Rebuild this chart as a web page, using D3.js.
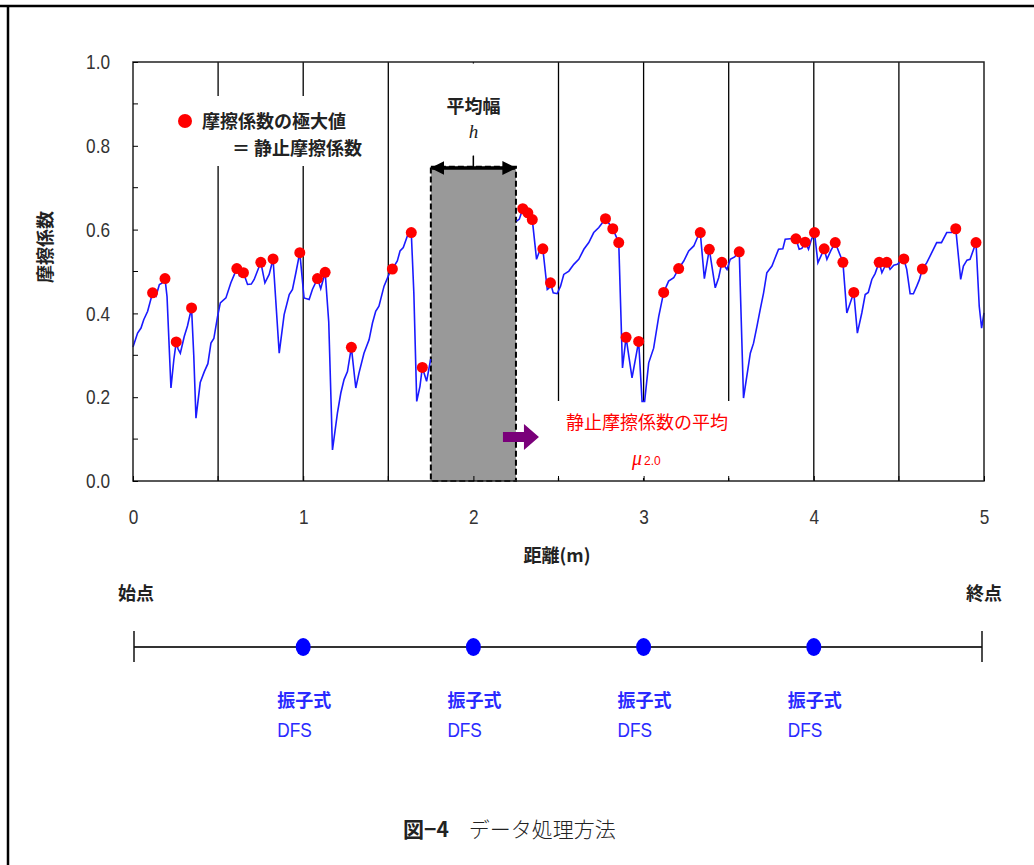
<!DOCTYPE html>
<html>
<head>
<meta charset="utf-8">
<script src="https://cdn.jsdelivr.net/npm/d3@7"></script>
<style>
  body { margin: 0; background: #fff; }
  .num { font-family: "Liberation Sans", Arial, sans-serif; }
  .jp { font-family: "Noto Sans CJK JP", "Noto Sans", sans-serif; }
</style>
</head>
<body>
<div id="chart"></div>
<script>
// friction curve, before the averaging window
var lineX1 = [0, 0.027, 0.047, 0.063, 0.086, 0.115, 0.135, 0.155, 0.17, 0.188, 0.2, 0.223, 0.24, 0.254, 0.265, 0.278, 0.301, 0.32, 0.344, 0.357, 0.37, 0.395, 0.419, 0.44, 0.458, 0.475, 0.497, 0.513, 0.546, 0.575, 0.61, 0.625, 0.649, 0.673, 0.695, 0.712, 0.751, 0.775, 0.8, 0.823, 0.859, 0.888, 0.918, 0.937, 0.957, 0.98, 1.005, 1.035, 1.054, 1.084, 1.103, 1.129, 1.15, 1.172, 1.201, 1.221, 1.24, 1.26, 1.283, 1.309, 1.328, 1.357, 1.387, 1.407, 1.426, 1.445, 1.475, 1.504, 1.524, 1.553, 1.569, 1.588, 1.612, 1.635, 1.65, 1.667, 1.686, 1.7, 1.725, 1.749];
var lineY1 = [0.32, 0.353, 0.365, 0.385, 0.405, 0.449, 0.441, 0.469, 0.472, 0.483, 0.44, 0.222, 0.29, 0.332, 0.315, 0.305, 0.345, 0.37, 0.413, 0.3, 0.15, 0.235, 0.261, 0.28, 0.329, 0.34, 0.393, 0.425, 0.437, 0.473, 0.507, 0.49, 0.497, 0.469, 0.47, 0.481, 0.522, 0.473, 0.493, 0.53, 0.305, 0.397, 0.445, 0.457, 0.497, 0.545, 0.437, 0.433, 0.457, 0.483, 0.459, 0.498, 0.38, 0.074, 0.162, 0.21, 0.242, 0.261, 0.319, 0.222, 0.258, 0.305, 0.337, 0.377, 0.405, 0.417, 0.465, 0.493, 0.506, 0.525, 0.549, 0.557, 0.585, 0.593, 0.45, 0.19, 0.226, 0.271, 0.238, 0.291];

// friction curve, after the averaging window
var lineX2 = [2.254, 2.27, 2.29, 2.32, 2.346, 2.371, 2.385, 2.408, 2.434, 2.443, 2.453, 2.469, 2.492, 2.512, 2.531, 2.561, 2.59, 2.619, 2.649, 2.678, 2.707, 2.737, 2.776, 2.819, 2.854, 2.876, 2.897, 2.932, 2.971, 2.991, 3.006, 3.03, 3.059, 3.089, 3.118, 3.147, 3.177, 3.206, 3.236, 3.265, 3.295, 3.315, 3.333, 3.357, 3.386, 3.421, 3.441, 3.46, 3.49, 3.509, 3.535, 3.562, 3.587, 3.627, 3.646, 3.666, 3.685, 3.705, 3.724, 3.754, 3.773, 3.793, 3.818, 3.832, 3.861, 3.895, 3.914, 3.93, 3.949, 3.969, 3.985, 4.004, 4.024, 4.061, 4.077, 4.1, 4.126, 4.171, 4.194, 4.214, 4.235, 4.256, 4.282, 4.302, 4.32, 4.341, 4.36, 4.384, 4.4, 4.429, 4.448, 4.47, 4.49, 4.529, 4.546, 4.566, 4.585, 4.605, 4.62, 4.638, 4.664, 4.693, 4.722, 4.75, 4.781, 4.81, 4.834, 4.863, 4.879, 4.9, 4.918, 4.953, 4.972, 4.986, 5.0];
var lineY2 = [0.62, 0.625, 0.65, 0.64, 0.624, 0.529, 0.545, 0.554, 0.457, 0.46, 0.473, 0.449, 0.447, 0.465, 0.493, 0.501, 0.517, 0.529, 0.553, 0.569, 0.593, 0.605, 0.626, 0.602, 0.569, 0.27, 0.343, 0.246, 0.333, 0.19, 0.19, 0.282, 0.317, 0.393, 0.45, 0.477, 0.485, 0.507, 0.525, 0.549, 0.561, 0.58, 0.593, 0.483, 0.553, 0.461, 0.485, 0.522, 0.505, 0.529, 0.535, 0.547, 0.198, 0.305, 0.329, 0.369, 0.409, 0.449, 0.497, 0.513, 0.533, 0.553, 0.554, 0.577, 0.578, 0.578, 0.553, 0.555, 0.57, 0.553, 0.575, 0.593, 0.521, 0.554, 0.529, 0.55, 0.569, 0.522, 0.401, 0.425, 0.45, 0.353, 0.401, 0.445, 0.45, 0.481, 0.495, 0.522, 0.497, 0.522, 0.505, 0.515, 0.517, 0.53, 0.505, 0.447, 0.447, 0.465, 0.48, 0.506, 0.521, 0.545, 0.569, 0.569, 0.593, 0.593, 0.602, 0.481, 0.513, 0.527, 0.529, 0.569, 0.417, 0.365, 0.401];

// local maxima (red dots)
var peakX = [0.115, 0.188, 0.254, 0.344, 0.61, 0.649, 0.751, 0.823, 0.98, 1.084, 1.129, 1.283, 1.524, 1.635, 1.7, 2.29, 2.32, 2.346, 2.408, 2.453, 2.776, 2.819, 2.854, 2.897, 2.971, 3.118, 3.206, 3.333, 3.386, 3.46, 3.562, 3.895, 3.949, 4.004, 4.061, 4.126, 4.171, 4.235, 4.384, 4.429, 4.529, 4.638, 4.834, 4.953];
var peakY = [0.449, 0.483, 0.332, 0.413, 0.507, 0.497, 0.522, 0.53, 0.545, 0.483, 0.498, 0.319, 0.506, 0.593, 0.271, 0.65, 0.64, 0.624, 0.554, 0.473, 0.626, 0.602, 0.569, 0.343, 0.333, 0.45, 0.507, 0.593, 0.553, 0.522, 0.547, 0.578, 0.57, 0.593, 0.554, 0.569, 0.522, 0.45, 0.522, 0.522, 0.53, 0.506, 0.602, 0.569];

var yTicks = [0, 0.2, 0.4, 0.6, 0.8, 1.0];
var yMinor = [0.1, 0.3, 0.5, 0.7, 0.9];
var xTicks = [0, 1, 2, 3, 4, 5];
var gridX = [0.5, 1, 1.5, 2, 2.5, 3, 3.5, 4, 4.5];
var windowRange = [1.75, 2.25];
var windowTop = 0.75;
var dfsX = [1, 2, 3, 4];

var W = 1034, H = 865;
var narrow = "scale(0.82,1)";   // no narrow font installed, squeeze Liberation Sans instead
var svg = d3.select("#chart").append("svg")
    .attr("width", W).attr("height", H);

// page frame
svg.append("line").attr("x1", 0).attr("x2", W).attr("y1", 6).attr("y2", 6)
    .attr("stroke", "#000").attr("stroke-width", 2.5);
svg.append("line").attr("x1", 8).attr("x2", 8).attr("y1", 5).attr("y2", H)
    .attr("stroke", "#000").attr("stroke-width", 2.5);

var x = d3.scaleLinear().domain([0, 5]).range([133, 984]);
var y = d3.scaleLinear().domain([0, 1]).range([481, 62]);

// vertical guide lines every 0.5 m
svg.selectAll(".gridline").data(gridX).enter().append("line")
    .attr("class", "gridline")
    .attr("x1", function(d) { return x(d); }).attr("x2", function(d) { return x(d); })
    .attr("y1", y(1)).attr("y2", y(0))
    .attr("stroke", "#000").attr("stroke-width", 1.3);

// white boxes behind the annotations
svg.append("rect").attr("x", 160).attr("y", 96).attr("width", 222).attr("height", 70).attr("fill", "#fff");
svg.append("rect").attr("x", 442).attr("y", y(1) + 1.5).attr("width", 64).attr("height", 92).attr("fill", "#fff");
svg.append("rect").attr("x", 545).attr("y", 401).attr("width", 195).attr("height", y(0) - 3 - 401).attr("fill", "#fff");

// averaging window
svg.append("rect")
    .attr("x", x(windowRange[0])).attr("y", y(windowTop))
    .attr("width", x(windowRange[1]) - x(windowRange[0]))
    .attr("height", y(0) - y(windowTop))
    .attr("fill", "#999")
    .attr("stroke", "#000").attr("stroke-width", 2)
    .attr("stroke-dasharray", "6,3");

// data
var line = d3.line()
    .x(function(d) { return x(d[0]); })
    .y(function(d) { return y(d[1]); });

[[lineX1, lineY1], [lineX2, lineY2]].forEach(function(s) {
  svg.append("path")
      .datum(d3.zip(s[0], s[1]))
      .attr("d", line)
      .attr("fill", "none")
      .attr("stroke", "#1a1aff")
      .attr("stroke-width", 1.6);
});

svg.selectAll(".peak").data(d3.zip(peakX, peakY)).enter().append("circle")
    .attr("class", "peak")
    .attr("cx", function(d) { return x(d[0]); })
    .attr("cy", function(d) { return y(d[1]); })
    .attr("r", 5.5)
    .attr("fill", "#ff0000");

// plot box
svg.append("rect").attr("x", x(0)).attr("y", y(1))
    .attr("width", x(5) - x(0)).attr("height", y(0) - y(1))
    .attr("fill", "none").attr("stroke", "#222").attr("stroke-width", 1.5);

// axes with inward ticks
var yAxis = d3.axisLeft(y).tickValues(yTicks).tickFormat(d3.format(".1f"))
    .tickSizeInner(-5).tickSizeOuter(0).tickPadding(28);
var gy = svg.append("g").attr("transform", "translate(" + x(0) + ",0)").call(yAxis);
gy.select(".domain").remove();
gy.selectAll("text").attr("class", "num").attr("transform", narrow)
    .style("font-size", "21px").attr("fill", "#333");

svg.selectAll(".yminor").data(yMinor).enter().append("line")
    .attr("x1", x(0)).attr("x2", x(0) + 5)
    .attr("y1", function(d) { return y(d); }).attr("y2", function(d) { return y(d); })
    .attr("stroke", "#000");

var xAxis = d3.axisBottom(x).tickValues(xTicks).tickFormat(d3.format("d"))
    .tickSizeInner(-5).tickSizeOuter(0).tickPadding(28);
var gx = svg.append("g").attr("transform", "translate(0," + y(0) + ")").call(xAxis);
gx.select(".domain").remove();
gx.selectAll("text").attr("class", "num").attr("transform", narrow)
    .style("font-size", "21px").attr("fill", "#333");

svg.selectAll(".xminor").data([0.5, 1.5, 2.5, 3.5, 4.5]).enter().append("line")
    .attr("x1", function(d) { return x(d); }).attr("x2", function(d) { return x(d); })
    .attr("y1", y(0)).attr("y2", y(0) - 5)
    .attr("stroke", "#000");

// axis titles
svg.append("text").attr("class", "jp")
    .attr("transform", "translate(52,247) rotate(-90)")
    .attr("text-anchor", "middle")
    .style("font-size", "18px").style("font-weight", "bold").attr("fill", "#222")
    .text("摩擦係数");
svg.append("text").attr("class", "jp")
    .attr("x", 557).attr("y", 562).attr("text-anchor", "middle")
    .style("font-size", "18px").style("font-weight", "bold").attr("fill", "#222")
    .text("距離(m)");

// legend
svg.append("circle").attr("cx", 185).attr("cy", 121).attr("r", 7).attr("fill", "#ff0000");
svg.append("text").attr("class", "jp").attr("x", 202).attr("y", 128)
    .style("font-size", "18px").style("font-weight", "bold").attr("fill", "#222")
    .text("摩擦係数の極大値");
svg.append("text").attr("class", "jp").attr("x", 232).attr("y", 155)
    .style("font-size", "18px").style("font-weight", "bold").attr("fill", "#222")
    .text("＝ 静止摩擦係数");

// window width annotation
svg.append("text").attr("class", "jp").attr("x", x(2)).attr("y", 113).attr("text-anchor", "middle")
    .style("font-size", "18px").style("font-weight", "bold").attr("fill", "#222")
    .text("平均幅");
svg.append("text").attr("x", x(2)).attr("y", 138).attr("text-anchor", "middle")
    .style("font-family", "Liberation Serif, serif").style("font-style", "italic")
    .style("font-size", "19px").attr("fill", "#222")
    .text("h");
svg.append("line").attr("x1", x(2)).attr("x2", x(2)).attr("y1", 156).attr("y2", 168)
    .attr("stroke", "#000").attr("stroke-width", 1.3);

var defs = svg.append("defs");
defs.append("marker").attr("id", "ah").attr("viewBox", "0 0 10 10")
    .attr("refX", 9).attr("refY", 5).attr("markerWidth", 4).attr("markerHeight", 4)
    .attr("orient", "auto-start-reverse")
    .append("path").attr("d", "M0,0 L10,5 L0,10 z").attr("fill", "#000");
svg.append("line")
    .attr("x1", x(windowRange[0]) + 1).attr("x2", x(windowRange[1]) - 1)
    .attr("y1", 168).attr("y2", 168)
    .attr("stroke", "#000").attr("stroke-width", 3.5)
    .attr("marker-start", "url(#ah)").attr("marker-end", "url(#ah)");

// purple arrow and mean label
var ax = x(windowRange[1]) - 13, ay = 437;
svg.append("path")
    .attr("d", "M" + ax + "," + (ay - 5) + " h21 v-8 l15,13 l-15,13 v-8 h-21 z")
    .attr("fill", "#7a007a");
svg.append("text").attr("class", "jp").attr("x", 647).attr("y", 429).attr("text-anchor", "middle")
    .style("font-size", "18px").attr("fill", "#ff0000")
    .text("静止摩擦係数の平均");
var mu = svg.append("text").attr("x", 632).attr("y", 465).attr("fill", "#ff0000");
mu.append("tspan").style("font-family", "Liberation Serif, serif").style("font-style", "italic")
    .style("font-size", "20px").text("μ");
mu.append("tspan").attr("class", "num").attr("dx", 2).style("font-size", "12px").text("2.0");

// bottom strip: start / end and DFS positions
var ty = 647;
svg.append("line").attr("x1", x(0) + 1).attr("x2", x(5) - 2).attr("y1", ty).attr("y2", ty)
    .attr("stroke", "#333").attr("stroke-width", 2);
[x(0) + 1, x(5) - 2].forEach(function(px) {
  svg.append("line").attr("x1", px).attr("x2", px).attr("y1", ty - 16).attr("y2", ty + 15)
      .attr("stroke", "#111").attr("stroke-width", 1.5);
});
svg.append("text").attr("class", "jp").attr("x", 136).attr("y", 600).attr("text-anchor", "middle")
    .style("font-size", "18px").style("font-weight", "bold").attr("fill", "#222").text("始点");
svg.append("text").attr("class", "jp").attr("x", 984).attr("y", 600).attr("text-anchor", "middle")
    .style("font-size", "18px").style("font-weight", "bold").attr("fill", "#222").text("終点");

svg.selectAll(".dfs").data(dfsX).enter().append("ellipse")
    .attr("cx", function(d) { return x(d); }).attr("cy", ty)
    .attr("rx", 7.5).attr("ry", 9)
    .attr("fill", "#0000ff");
svg.selectAll(".dfs1").data(dfsX).enter().append("text").attr("class", "jp")
    .attr("x", function(d) { return x(d) - 26; }).attr("y", 707)
    .style("font-size", "18px").style("font-weight", "bold").attr("fill", "#2a2aff")
    .text("振子式");
svg.selectAll(".dfs2").data(dfsX).enter().append("text").attr("class", "num")
    .attr("transform", function(d) { return "translate(" + (x(d) - 26) + ",737) " + narrow; })
    .style("font-size", "21px").attr("fill", "#2a2aff")
    .text("DFS");

// caption
var cap = svg.append("text").attr("x", 403).attr("y", 837).attr("fill", "#222");
cap.append("tspan").attr("class", "jp").style("font-size", "21px").style("font-weight", "bold").text("図−4");
cap.append("tspan").attr("class", "jp").attr("dx", 20).style("font-size", "21px").style("font-weight", "300").text("データ処理方法");
</script>
</body>
</html>
